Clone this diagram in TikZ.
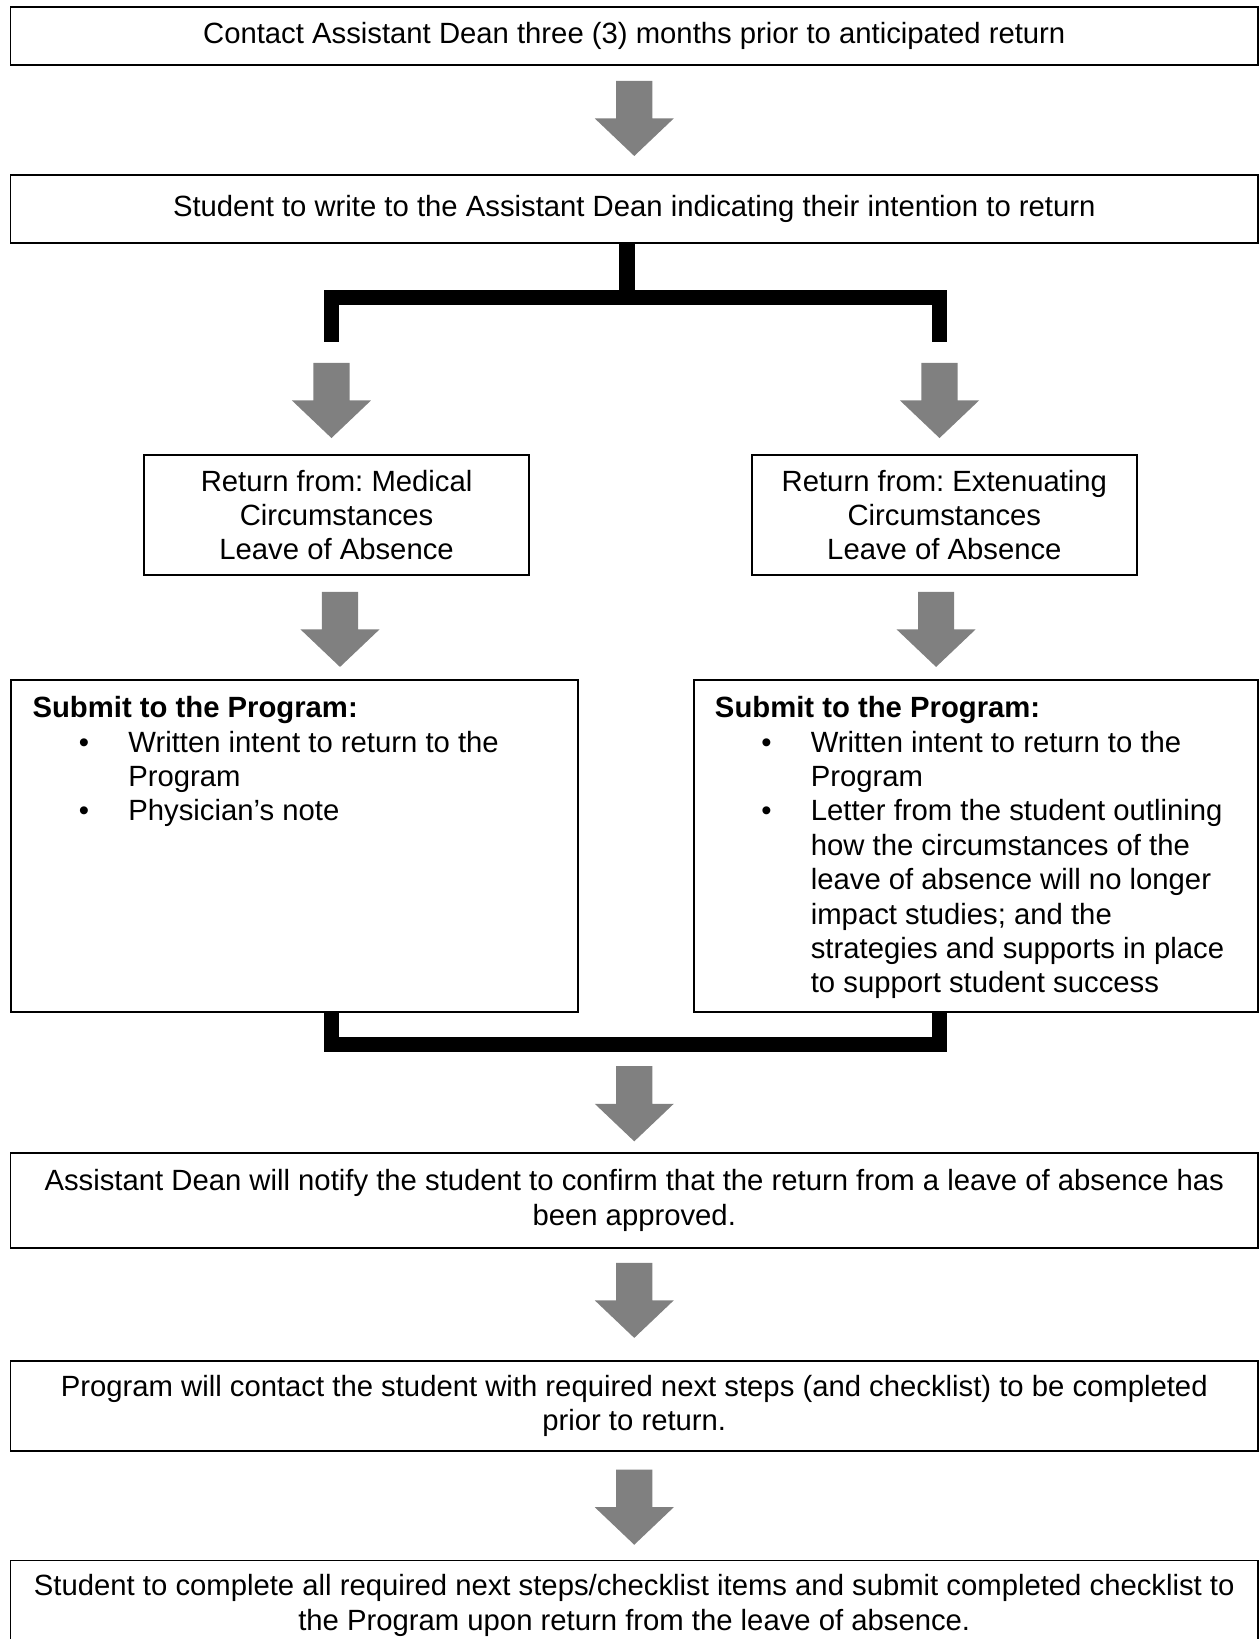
\documentclass[tikz,border=0pt]{standalone}
\usepackage{fontspec}
\setmainfont{Liberation Sans}
\usetikzlibrary{positioning}
\frenchspacing

\newcommand{\bitem}[1]{\par\noindent\hangindent=39.3pt\hangafter=1%
  \hspace*{19pt}\makebox[20.3pt][l]{\textbullet}{\let\\\newline #1}}

\begin{document}
\begin{tikzpicture}[x=1pt, y=1pt,
    box/.style={draw, line width=0.7pt, inner sep=0pt, align=center,
      font=\fontsize{12}{14.1}\selectfont},
    widebox/.style={box, minimum width=511.5pt},
    sidebox/.style={box, minimum width=157.9pt, minimum height=49.2pt},
    listbox/.style={box, anchor=north west, inner xsep=8.7pt, inner ysep=6.8pt},
    bracket/.style={line width=6.2pt, line join=miter},
    blockdown/.pic={\fill [gray] (-7.4,0) -- (-7.4,-15.4) -- (-16.2,-15.4) --
      (0,-30.8) -- (16.2,-15.4) -- (7.4,-15.4) -- (7.4,0) -- cycle;}]
      \useasboundingbox (0,0) rectangle (516.2,-672);%

      % Contact
      \node [widebox, minimum height=23.8pt] (contact) at (260.05,-14.8)
      {Contact Assistant Dean three (3) months prior to anticipated return};%
      \pic at ([yshift=-6.1pt]contact.south) {blockdown};%

      % Intent
      \node [widebox, minimum height=27.9pt, below=44.3pt of contact] (intent)
      {Student to write to the Assistant Dean indicating their intention to return};%

      % fork
      \coordinate (fork) at ([xshift=-3pt, yshift=-22pt]intent.south);%
      \coordinate (forkL) at (135.9,-140.2);%
      \coordinate (forkR) at (385.2,-140.2);%
      \draw [bracket] (intent.south -| fork) -- (fork);%
      \draw [bracket] (forkL) |- (fork) -| (forkR);%
      \pic at ([yshift=-8.6pt]forkL) {blockdown};%
      \pic at ([yshift=-8.6pt]forkR) {blockdown};%

      % Leave types
      % -- medical
      \node [sidebox] (medical) at (138.0,-211.2)
      {Return from: Medical\\Circumstances\\Leave of Absence};%
      \pic at ([xshift=1.4pt, yshift=-6.5pt]medical.south) {blockdown};%
      % -- extenuating
      \node [sidebox] (extenuating) at (387.2,-211.2)
      {Return from: Extenuating\\Circumstances\\Leave of Absence};%
      \pic at ([xshift=-3.4pt, yshift=-6.5pt]extenuating.south) {blockdown};%

      % Submissions
      \node [listbox] (medsubmit) at (4.3,-278.4)
      {\parbox[c][122.5pt][t]{214.9pt}{\raggedright
          \textbf{Submit to the Program:}
          \bitem{Written intent to return to the\\Program}
          \bitem{Physician’s note}}};%
      \node [listbox] (extsubmit) at (284.1,-278.4)
      {\parbox[c][122.5pt][t]{213.9pt}{\raggedright
          \textbf{Submit to the Program:}
          \bitem{Written intent to return to the\\Program}
          \bitem{Letter from the student outlining\\how the circumstances of the\\leave
            of absence will no longer\\impact studies; and the\\strategies and
            supports in place\\to support student success}}};%

      % merge
      \draw [bracket] (forkL |- medsubmit.south) -- ++(0,-13.1) -| (forkR |-
      extsubmit.south);%

      % Approval
      \node [widebox, minimum height=39pt] (approve) at (260.05,-492.2)
      {Assistant Dean will notify the student to confirm that the return from a
        leave of absence has\\been approved.};%
      \pic at ([yshift=35.2pt]approve.north) {blockdown};%
      \pic at ([yshift=-5.7pt]approve.south) {blockdown};%

      % Next steps
      \node [widebox, minimum height=36.9pt, below=45.5pt of approve] (nextsteps)
      {Program will contact the student with required next steps (and
        checklist) to be completed\\prior to return.};%
      \pic at ([yshift=-7.4pt]nextsteps.south) {blockdown};%

      % Complete
      \node [widebox, minimum height=36.9pt, below=44.3pt of nextsteps] (complete)
      {Student to complete all required next steps/checklist items and submit
        completed checklist to\\the Program upon return from the leave of absence.};%
\end{tikzpicture}
\end{document}
